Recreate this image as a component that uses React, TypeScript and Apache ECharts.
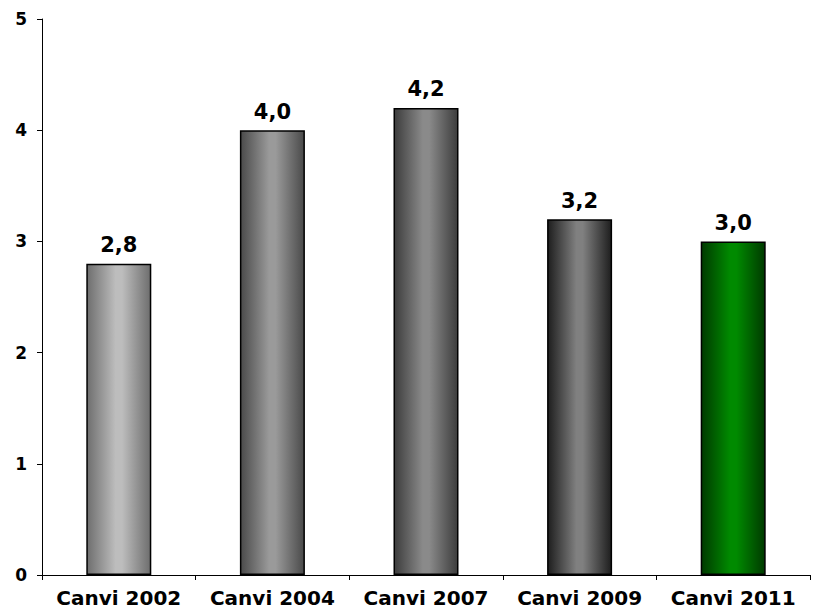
import React, { useEffect, useRef } from "react";
import * as echarts from "echarts";

const categories = ["Canvi 2002", "Canvi 2004", "Canvi 2007", "Canvi 2009", "Canvi 2011"];
const values = [2.8, 4.0, 4.2, 3.2, 3.0];
const barEdge = ["#6e6e6e", "#4a4a4a", "#3c3c3c", "#1e1e1e", "#003a00"];
const barMid = ["#bdbdbd", "#9a9a9a", "#8a8a8a", "#808080", "#008a00"];

function grad(i: number) {
  return new echarts.graphic.LinearGradient(0, 0, 1, 0, [
    { offset: 0, color: barEdge[i] },
    { offset: 0.45, color: barMid[i] },
    { offset: 0.55, color: barMid[i] },
    { offset: 1, color: barEdge[i] },
  ]);
}

export default function App() {
  const ref = useRef<HTMLDivElement>(null);
  useEffect(() => {
    const chart = echarts.init(ref.current!, null, { renderer: "svg" });
    chart.setOption({
      animation: false,
      grid: { left: 42, right: 9, top: 19, bottom: 39 },
      xAxis: {
        type: "category",
        data: categories,
        axisLine: { lineStyle: { color: "#000", width: 1 } },
        axisTick: { show: true, interval: 0, alignWithLabel: false, length: 5, lineStyle: { color: "#000" } },
        axisLabel: {
          interval: 0,
          color: "#000",
          fontFamily: "DejaVu Sans",
          fontWeight: "bold",
          fontSize: 20,
          margin: 13,
        },
      },
      yAxis: {
        type: "value",
        min: 0,
        max: 5,
        interval: 1,
        splitLine: { show: false },
        axisLine: { show: true, lineStyle: { color: "#000", width: 1 } },
        axisTick: { show: true, length: 5, lineStyle: { color: "#000" } },
        axisLabel: {
          color: "#000",
          fontFamily: "DejaVu Sans",
          fontWeight: "bold",
          fontSize: 17,
          margin: 15,
        },
      },
      series: [
        {
          type: "bar",
          barWidth: 65,
          data: values.map((v, i) => ({
            value: v,
            itemStyle: { color: grad(i), borderColor: "#000", borderWidth: 1.5 },
          })),
          label: {
            show: true,
            position: "top",
            distance: 8,
            color: "#000",
            fontFamily: "DejaVu Sans",
            fontWeight: "bold",
            fontSize: 21,
            formatter: (p: any) => p.value.toFixed(1).replace(".", ","),
          },
        },
      ],
    });
    return () => chart.dispose();
  }, []);
  return <div ref={ref} style={{ width: 819, height: 614, position: "absolute", left: 0, top: 0 }} />;
}
